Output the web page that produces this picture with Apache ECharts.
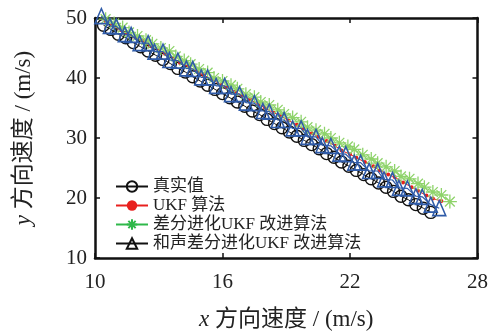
<!DOCTYPE html>
<html>
<head>
<meta charset="utf-8">
<script src="https://cdn.jsdelivr.net/npm/echarts@6/dist/echarts.min.js"></script>
<style>
  html, body { margin: 0; padding: 0; background: #fff; }
  #main { width: 491px; height: 336px; }
</style>
</head>
<body>
<div id="main"></div>
<script>
// series names (legend)
const names = ["真实值", "UKF 算法", "差分进化UKF 改进算法", "和声差分进化UKF 改进算法"]

// true velocity
const trueX = [10.4, 10.75, 11.1, 11.45, 11.8, 12.15, 12.5, 12.85, 13.2, 13.55, 13.9, 14.25, 14.6, 14.95, 15.3, 15.65, 16.0, 16.35, 16.7, 17.05, 17.4, 17.75, 18.1, 18.45, 18.8, 19.15, 19.5, 19.85, 20.2, 20.55, 20.9, 21.25, 21.6, 21.95, 22.3, 22.65, 23.0, 23.35, 23.7, 24.05, 24.4, 24.75, 25.1, 25.45, 25.8]
const trueY = [48.8, 48.1, 47.3, 46.7, 45.9, 45.2, 44.5, 43.8, 43.1, 42.4, 41.6, 41.0, 40.2, 39.5, 38.8, 38.1, 37.4, 36.7, 36.0, 35.3, 34.5, 33.9, 33.1, 32.4, 31.7, 31.0, 30.3, 29.6, 28.9, 28.2, 27.4, 26.8, 26.0, 25.3, 24.6, 23.9, 23.2, 22.5, 21.8, 21.1, 20.3, 19.7, 18.9, 18.3, 17.6]

// UKF
const ukfX = [10.5, 10.8, 11.2, 11.5, 11.9, 12.3, 12.6, 13.0, 13.3, 13.7, 14.0, 14.4, 14.8, 15.1, 15.5, 15.9, 16.2, 16.6, 16.9, 17.3, 17.7, 18.0, 18.4, 18.7, 19.1, 19.5, 19.8, 20.2, 20.5, 20.9, 21.3, 21.6, 22.0, 22.3, 22.7, 23.1, 23.4, 23.8, 24.1, 24.5, 24.9, 25.2, 25.6, 25.9, 26.3]
const ukfY = [49.5, 48.8, 48.0, 47.4, 46.7, 46.2, 45.3, 44.6, 44.0, 43.3, 42.5, 41.9, 41.1, 40.5, 39.8, 38.9, 38.4, 37.7, 37.1, 36.4, 35.6, 35.0, 34.2, 33.8, 32.9, 32.2, 31.5, 30.8, 30.2, 29.5, 28.7, 27.9, 27.3, 26.7, 26.0, 25.3, 24.6, 23.9, 23.5, 22.6, 21.8, 21.2, 20.4, 19.9, 19.5]

// DE-UKF
const deX = [10.5, 10.9, 11.3, 11.6, 12.0, 12.4, 12.7, 13.1, 13.5, 13.8, 14.2, 14.5, 14.9, 15.3, 15.6, 16.0, 16.4, 16.7, 17.1, 17.5, 17.8, 18.2, 18.6, 18.9, 19.3, 19.7, 20.0, 20.4, 20.8, 21.1, 21.5, 21.9, 22.2, 22.6, 23.0, 23.3, 23.7, 24.1, 24.4, 24.8, 25.2, 25.5, 25.9, 26.3, 26.7]
const deY = [49.8, 49.1, 48.4, 47.6, 47.0, 46.3, 45.7, 45.0, 44.5, 43.6, 42.9, 42.3, 41.5, 40.9, 40.0, 39.5, 38.8, 38.2, 37.3, 36.8, 36.0, 35.5, 34.7, 34.0, 33.4, 32.7, 31.8, 31.3, 30.7, 30.0, 29.2, 28.6, 28.1, 27.2, 26.5, 25.8, 25.2, 24.5, 23.6, 23.2, 22.4, 21.8, 21.0, 20.5, 19.4]

// HS-DE-UKF
const hsX = [10.3, 10.7, 11.0, 11.4, 11.7, 12.1, 12.5, 12.8, 13.2, 13.5, 13.9, 14.3, 14.6, 15.0, 15.3, 15.7, 16.1, 16.4, 16.8, 17.1, 17.5, 17.9, 18.2, 18.6, 18.9, 19.3, 19.7, 20.0, 20.4, 20.7, 21.1, 21.5, 21.8, 22.2, 22.5, 22.9, 23.3, 23.6, 24.0, 24.3, 24.7, 25.1, 25.4, 25.8, 26.2]
const hsY = [50.3, 48.7, 48.6, 47.3, 47.2, 45.8, 45.8, 44.4, 44.4, 43.0, 42.9, 41.6, 41.5, 40.1, 40.1, 38.7, 38.7, 37.3, 37.3, 35.9, 35.8, 34.5, 34.4, 33.0, 33.0, 31.6, 31.6, 30.2, 30.2, 28.8, 28.7, 27.4, 27.3, 25.9, 25.9, 24.5, 24.5, 23.1, 23.0, 21.7, 21.6, 20.3, 20.2, 18.9, 18.3]

const xTicks = { min: 10, max: 28, interval: 6 }
const yTicks = { min: 10, max: 50, interval: 10 }

const pair = (xs, ys) => xs.map((x, i) => [x, ys[i]])

const serif = "'Liberation Serif', 'Noto Sans CJK SC', serif"
const asterisk = "path://M0,-10L0,10M-10,0L10,0M-7,-7L7,7M-7,7L7,-7"

const chart = echarts.init(document.getElementById("main"))

const frameAxis = {
  axisLine: { show: true, onZero: false, lineStyle: { color: "#111", width: 2.5 } },
  axisTick: { show: true, inside: true, length: 5, lineStyle: { color: "#111", width: 1.5 } },
  splitLine: { show: false },
}

const titleStyle = size => ({
  fontFamily: serif, fontSize: size, color: "#222",
  rich: { i: { fontFamily: serif, fontStyle: "italic", fontSize: size, color: "#222" } },
})

const option = {
  backgroundColor: "#fff",
  animation: false,
  grid: { left: 95, right: 13, top: 18, bottom: 78 },
  xAxis: [
    {
      type: "value",
      ...xTicks,
      ...frameAxis,
      name: "{i|x} 方向速度 / (m/s)",
      nameLocation: "middle",
      nameGap: 50,
      nameTextStyle: titleStyle(23),
      axisLabel: { fontFamily: serif, fontSize: 21, color: "#222", margin: 14 },
    },
    { type: "value", position: "top", ...xTicks, ...frameAxis, axisLabel: { show: false } },
  ],
  yAxis: [
    {
      type: "value",
      ...yTicks,
      ...frameAxis,
      name: "{i|y} 方向速度 / (m/s)",
      nameLocation: "middle",
      nameGap: 60,
      nameRotate: 90,
      nameTextStyle: titleStyle(23),
      axisLabel: { fontFamily: serif, fontSize: 21, color: "#222", margin: 8 },
    },
    { type: "value", position: "right", ...yTicks, ...frameAxis, axisLabel: { show: false } },
  ],
  legend: {
    orient: "vertical",
    left: 110,
    top: 172,
    itemWidth: 32,
    itemHeight: 13,
    itemGap: 0,
    textStyle: { fontFamily: serif, fontSize: 17, color: "#222", lineHeight: 19 },
    data: [
      { name: names[0] },
      { name: names[1] },
      { name: names[2], itemStyle: { borderColor: "#2fb84a" }, lineStyle: { color: "#2fb84a" } },
      { name: names[3], itemStyle: { borderColor: "#111" }, lineStyle: { color: "#111" } },
    ],
  },
  series: [
    {
      name: names[0],
      type: "line",
      data: pair(trueX, trueY),
      clip: false,
      symbol: "circle",
      symbolSize: 12,
      lineStyle: { color: "#111", width: 1 },
      itemStyle: { color: "rgba(0,0,0,0)", borderColor: "#111", borderWidth: 1.4 },
      z: 2,
    },
    {
      name: names[1],
      type: "line",
      data: pair(ukfX, ukfY),
      clip: false,
      symbol: "circle",
      symbolSize: 4,
      lineStyle: { color: "#e8201e", width: 1 },
      itemStyle: { color: "#e8201e", borderWidth: 0 },
      z: 3,
    },
    {
      name: names[2],
      type: "line",
      data: pair(deX, deY),
      clip: false,
      symbol: asterisk,
      symbolSize: 14,
      lineStyle: { color: "#8ed36a", width: 1 },
      itemStyle: { color: "rgba(0,0,0,0)", borderColor: "#8ed36a", borderWidth: 1.3 },
      z: 4,
    },
    {
      name: names[3],
      type: "line",
      data: pair(hsX, hsY),
      clip: false,
      symbol: "triangle",
      symbolSize: [13, 15],
      lineStyle: { color: "#2f5ba8", width: 1.2 },
      itemStyle: { color: "rgba(0,0,0,0)", borderColor: "#2f5ba8", borderWidth: 1.6 },
      z: 5,
    },
  ],
}

chart.setOption(option)
</script>
</body>
</html>
